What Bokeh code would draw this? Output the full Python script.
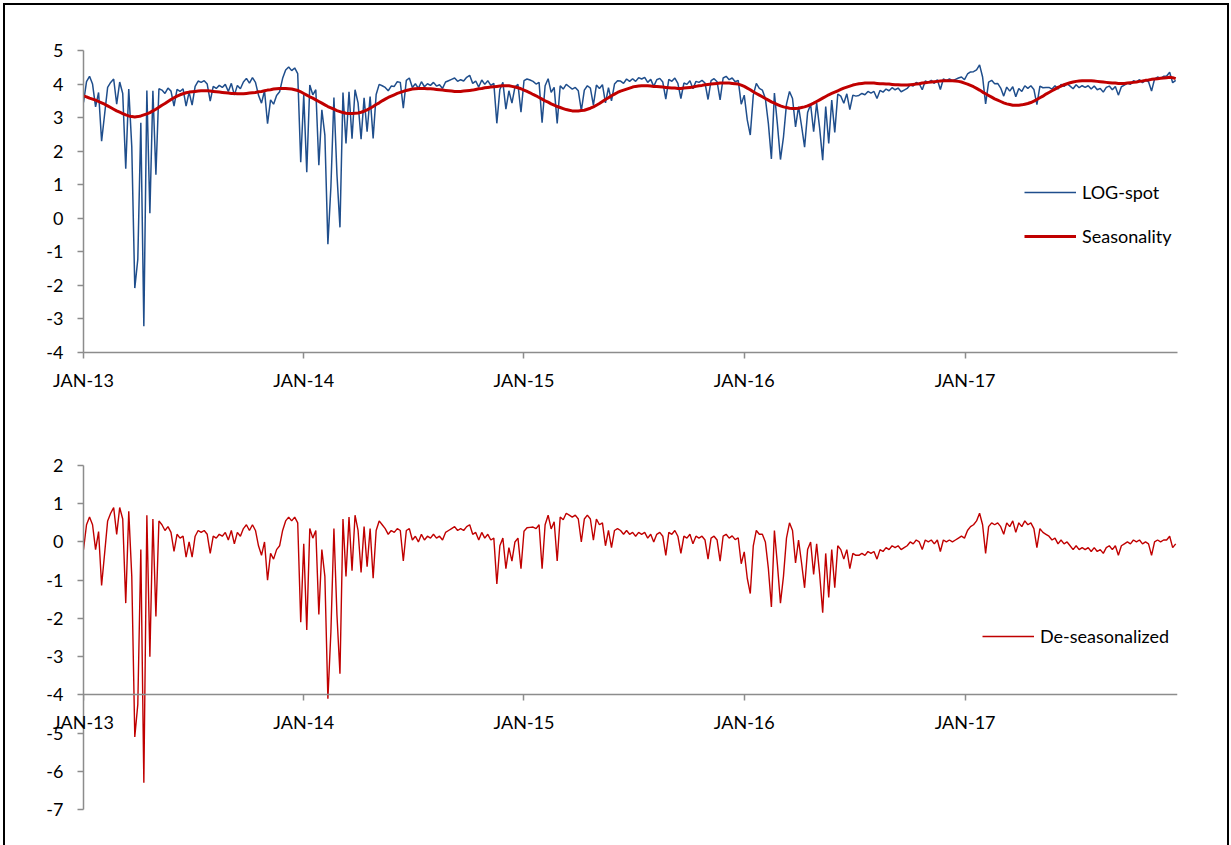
import numpy as np
import pandas as pd
from bokeh.plotting import figure
from bokeh.layouts import column, row
from bokeh.models import (ColumnDataSource, FixedTicker, Label, Legend,
                          LegendItem, Range1d, Spacer)
from bokeh.embed import file_html
from bokeh.resources import INLINE

# ---- data: one observation every 5 days from 2013-01-01 ----
START = "2013-01-01"
STEP_DAYS = 5
X_END = "2017-12-19"

LOG_SPOT = [
    3.45, 4.07, 4.23, 4.00, 3.32, 3.75, 2.30, 3.10, 3.90, 4.05,
    4.15, 3.40, 4.06, 3.72, 1.48, 3.85, 2.13, -2.08, -1.22, 2.85,
    -3.22, 3.81, 0.15, 3.80, 1.30, 3.86, 3.82, 3.72, 3.88, 3.79,
    3.34, 3.84, 3.78, 3.86, 3.34, 3.76, 3.37, 3.93, 4.09, 4.05,
    4.10, 4.00, 3.49, 3.93, 3.87, 3.96, 3.90, 3.99, 3.78, 4.02,
    3.67, 3.96, 3.86, 4.06, 4.17, 4.03, 4.19, 4.05, 3.67, 3.43,
    3.80, 2.82, 3.53, 3.40, 3.66, 3.77, 4.17, 4.42, 4.51, 4.40,
    4.48, 4.31, 1.67, 3.67, 1.37, 3.97, 3.68, 3.83, 1.58, 3.23,
    2.48, -0.77, 0.94, 3.60, 1.31, -0.27, 3.75, 2.23, 3.77, 2.37,
    3.83, 3.44, 2.36, 3.59, 2.58, 3.63, 2.38, 3.69, 3.99, 3.95,
    3.90, 3.80, 3.94, 3.93, 4.07, 4.05, 3.28, 4.11, 4.18, 3.90,
    4.01, 3.87, 4.07, 3.92, 4.01, 3.96, 4.05, 3.94, 3.98, 3.87,
    4.06, 4.10, 4.14, 4.18, 4.08, 4.13, 4.09, 4.20, 4.26, 4.02,
    4.09, 3.91, 4.12, 3.99, 4.10, 3.96, 4.02, 2.83, 3.84, 4.05,
    3.25, 3.80, 3.43, 3.91, 3.99, 3.16, 4.10, 4.15, 4.12, 4.08,
    4.00, 4.05, 2.85, 3.95, 4.16, 3.75, 3.90, 2.83, 3.95, 3.85,
    3.99, 3.92, 3.85, 3.90, 3.80, 3.21, 3.82, 3.95, 3.88, 3.37,
    3.97, 3.87, 3.98, 3.44, 3.89, 3.50, 4.00, 4.10, 4.09, 4.02,
    4.15, 4.08, 4.16, 4.08, 4.19, 4.15, 4.20, 4.05, 4.14, 3.93,
    4.13, 4.17, 4.06, 3.55, 4.14, 4.08, 4.18, 4.02, 3.57, 4.03,
    3.99, 4.10, 3.86, 4.08, 4.05, 4.11, 4.03, 3.54, 4.10, 4.16,
    4.07, 3.53, 4.18, 4.23, 4.13, 4.18, 4.07, 4.11, 3.40, 3.67,
    2.93, 2.48, 3.67, 4.02, 3.87, 3.82, 3.57, 2.82, 1.77, 3.73,
    2.79, 1.75, 2.42, 3.40, 3.78, 3.57, 2.72, 3.33, 2.75, 2.12,
    3.15, 3.39, 2.58, 3.43, 2.68, 1.73, 3.33, 2.23, 3.52, 2.56,
    3.70, 3.64, 3.43, 3.71, 3.24, 3.67, 3.64, 3.66, 3.72, 3.68,
    3.78, 3.73, 3.78, 3.57, 3.81, 3.76, 3.85, 3.80, 3.89, 3.83,
    3.88, 3.77, 3.82, 3.87, 3.98, 3.94, 4.05, 4.01, 3.83, 4.09,
    4.05, 4.11, 4.02, 4.13, 3.84, 4.15, 4.10, 4.15, 4.10, 4.14,
    4.18, 4.21, 4.13, 4.30, 4.36, 4.37, 4.42, 4.57, 4.21, 3.41,
    4.06, 4.11, 4.01, 4.02, 3.88, 3.64, 3.91, 3.79, 3.92, 3.62,
    3.87, 3.78, 3.95, 3.87, 3.95, 3.84, 3.39, 3.94, 3.89, 3.90,
    3.90, 3.85, 3.95, 3.85, 3.99, 3.93, 4.01, 3.94, 3.86, 3.98,
    3.89, 3.95, 3.90, 3.95, 3.85, 3.94, 3.83, 3.87, 3.76, 3.90,
    3.94, 3.83, 3.93, 3.67, 3.92, 3.97, 4.03, 3.99, 4.10, 4.06,
    4.13, 4.04, 4.11, 4.07, 3.79, 4.15, 4.21, 4.17, 4.23, 4.24,
    4.35, 4.04, 4.11,
]

SEASONALITY = [
    3.65, 3.62, 3.58, 3.55, 3.52, 3.48, 3.44, 3.40, 3.35, 3.30,
    3.25, 3.20, 3.16, 3.12, 3.08, 3.05, 3.03, 3.02, 3.03, 3.05,
    3.08, 3.11, 3.15, 3.20, 3.25, 3.31, 3.37, 3.42, 3.48, 3.54,
    3.59, 3.64, 3.68, 3.71, 3.74, 3.76, 3.77, 3.78, 3.79, 3.80,
    3.80, 3.80, 3.79, 3.78, 3.77, 3.76, 3.75, 3.74, 3.73, 3.72,
    3.72, 3.71, 3.71, 3.71, 3.72, 3.73, 3.74, 3.75, 3.77, 3.78,
    3.80, 3.82, 3.83, 3.85, 3.86, 3.87, 3.87, 3.87, 3.86, 3.85,
    3.83, 3.81, 3.77, 3.72, 3.67, 3.62, 3.58, 3.53, 3.48, 3.43,
    3.38, 3.33, 3.29, 3.25, 3.21, 3.18, 3.15, 3.13, 3.12, 3.12,
    3.13, 3.14, 3.16, 3.19, 3.23, 3.28, 3.33, 3.39, 3.44, 3.50,
    3.55, 3.60, 3.64, 3.68, 3.72, 3.75, 3.78, 3.81, 3.83, 3.85,
    3.86, 3.87, 3.87, 3.87, 3.86, 3.86, 3.85, 3.84, 3.83, 3.82,
    3.81, 3.80, 3.79, 3.78, 3.78, 3.78, 3.79, 3.80, 3.81, 3.82,
    3.84, 3.86, 3.87, 3.89, 3.90, 3.91, 3.92, 3.93, 3.94, 3.95,
    3.95, 3.95, 3.93, 3.91, 3.89, 3.86, 3.82, 3.78, 3.74, 3.69,
    3.65, 3.60, 3.55, 3.50, 3.46, 3.41, 3.37, 3.33, 3.30, 3.27,
    3.24, 3.22, 3.20, 3.20, 3.20, 3.21, 3.22, 3.25, 3.28, 3.32,
    3.37, 3.42, 3.48, 3.54, 3.59, 3.65, 3.70, 3.75, 3.79, 3.82,
    3.85, 3.88, 3.91, 3.93, 3.94, 3.95, 3.95, 3.95, 3.94, 3.93,
    3.93, 3.92, 3.91, 3.90, 3.89, 3.88, 3.88, 3.87, 3.87, 3.88,
    3.89, 3.90, 3.91, 3.93, 3.95, 3.96, 3.98, 3.99, 4.00, 4.01,
    4.02, 4.03, 4.03, 4.03, 4.03, 4.02, 4.01, 4.00, 3.97, 3.93,
    3.88, 3.83, 3.77, 3.72, 3.67, 3.62, 3.57, 3.52, 3.47, 3.43,
    3.39, 3.35, 3.32, 3.30, 3.28, 3.27, 3.27, 3.28, 3.30, 3.32,
    3.35, 3.39, 3.43, 3.48, 3.53, 3.58, 3.63, 3.68, 3.72, 3.76,
    3.80, 3.84, 3.88, 3.91, 3.94, 3.97, 3.99, 4.01, 4.02, 4.03,
    4.03, 4.03, 4.03, 4.02, 4.01, 4.01, 4.00, 4.00, 3.99, 3.98,
    3.98, 3.97, 3.97, 3.97, 3.98, 3.99, 4.00, 4.01, 4.03, 4.04,
    4.05, 4.06, 4.07, 4.08, 4.09, 4.10, 4.10, 4.10, 4.10, 4.09,
    4.08, 4.06, 4.03, 4.00, 3.96, 3.92, 3.87, 3.82, 3.76, 3.71,
    3.66, 3.61, 3.56, 3.52, 3.48, 3.44, 3.41, 3.39, 3.37, 3.37,
    3.37, 3.38, 3.40, 3.42, 3.45, 3.49, 3.54, 3.59, 3.64, 3.70,
    3.75, 3.80, 3.85, 3.90, 3.94, 3.98, 4.01, 4.04, 4.06, 4.08,
    4.09, 4.10, 4.10, 4.10, 4.10, 4.09, 4.08, 4.07, 4.06, 4.05,
    4.04, 4.03, 4.03, 4.02, 4.02, 4.02, 4.03, 4.04, 4.05, 4.06,
    4.08, 4.09, 4.11, 4.12, 4.14, 4.15, 4.16, 4.17, 4.18, 4.19,
    4.20, 4.19, 4.16,
]

YEAR_TICKS = ["2013-01-01", "2014-01-01", "2015-01-01", "2016-01-01", "2017-01-01"]
YEAR_LABELS = ["JAN-13", "JAN-14", "JAN-15", "JAN-16", "JAN-17"]
TOP_Y_TICKS = [-4, -3, -2, -1, 0, 1, 2, 3, 4, 5]
BOTTOM_Y_TICKS = [-7, -6, -5, -4, -3, -2, -1, 0, 1, 2]
BOTTOM_AXIS_CROSS = -4

# ---- derived series ----
dates = pd.date_range(START, periods=len(LOG_SPOT), freq=f"{STEP_DAYS}D")
spot = np.array(LOG_SPOT)
season = np.array(SEASONALITY)
src = ColumnDataSource(dict(date=dates, spot=spot, season=season,
                            deseason=spot - season))


def to_ms(day):
    return float(pd.Timestamp(day).value // 10**6)


tick_ms = [to_ms(d) for d in YEAR_TICKS]
x0 = to_ms(START)
x1 = to_ms(X_END)

FONT = "Lato"
FS = "18px"
AXIS = "#8c8c8c"
BLUE = "#1f4e8c"
RED = "#c00000"
TICK_OUT = 6
X_STANDOFF = 10


def style(p, yticks, xlabels):
    p.xgrid.visible = False
    p.ygrid.visible = False
    p.outline_line_color = None
    p.background_fill_color = "white"
    p.border_fill_color = "white"
    for ax in (p.xaxis[0], p.yaxis[0]):
        ax.axis_line_color = AXIS
        ax.axis_line_width = 1.5
        ax.major_tick_line_color = AXIS
        ax.major_tick_line_width = 1.5
        ax.minor_tick_line_color = None
        ax.major_tick_in = 0
        ax.major_tick_out = TICK_OUT
        ax.major_label_text_font = FONT
        ax.major_label_text_font_size = FS
        ax.major_label_text_color = "#000000"
    p.xaxis[0].ticker = FixedTicker(ticks=tick_ms)
    p.xaxis[0].major_label_overrides = dict(zip(tick_ms, xlabels))
    p.xaxis[0].major_label_standoff = X_STANDOFF
    p.yaxis[0].ticker = FixedTicker(ticks=yticks)
    p.yaxis[0].major_label_overrides = {t: str(t) for t in yticks}
    p.yaxis[0].major_label_standoff = 14


def legend(items, loc):
    return Legend(items=items, location=loc, border_line_color=None,
                  background_fill_alpha=0, padding=0, margin=0, spacing=22,
                  glyph_width=52, glyph_height=20, label_height=20,
                  label_standoff=6, label_text_font=FONT,
                  label_text_font_size=FS, label_text_color="#000000")


# ---- upper panel: log spot price and its seasonal component ----
p1 = figure(width=1222, height=415, x_axis_type="datetime", title=None,
            x_range=Range1d(x0, x1), y_range=Range1d(-4, 5),
            min_border_left=78, min_border_right=50, min_border_top=45,
            min_border_bottom=68, output_backend="svg", toolbar_location=None)
style(p1, TOP_Y_TICKS, YEAR_LABELS)
r_spot = p1.line("date", "spot", source=src, line_color=BLUE, line_width=1.5)
r_season = p1.line("date", "season", source=src, line_color=RED, line_width=3,
                   line_join="round")
p1.add_layout(legend([LegendItem(label="LOG-spot", renderers=[r_spot]),
                      LegendItem(label="Seasonality", renderers=[r_season])],
                     (941, 105)))

# ---- lower panel: de-seasonalized series, date axis crossing at -4 ----
p2 = figure(width=1222, height=425, x_axis_type="datetime", title=None,
            x_range=Range1d(x0, x1), y_range=Range1d(-7, 2),
            min_border_left=78, min_border_right=50, min_border_top=45,
            min_border_bottom=36, output_backend="svg", toolbar_location=None)
# the crossing axis is clipped at the frame edge, so its first label is
# drawn by a label kept outside the plot area (not clipped)
style(p2, BOTTOM_Y_TICKS, [""] + YEAR_LABELS[1:])
p2.xaxis[0].fixed_location = BOTTOM_AXIS_CROSS
p2.add_layout(Label(x=tick_ms[0], y=BOTTOM_AXIS_CROSS, text=YEAR_LABELS[0],
                    text_align="center", text_baseline="top",
                    y_offset=-(TICK_OUT + X_STANDOFF), text_font=FONT,
                    text_font_size=FS, text_color="#000000"), "above")
r_des = p2.line("date", "deseason", source=src, line_color=RED, line_width=1.4)
p2.add_layout(legend([LegendItem(label="De-seasonalized", renderers=[r_des])],
                     (899, 162)))

# ---- chart-area frame ----
BLACK = {"background-color": "#000000"}
inner = column(Spacer(width=1222, height=2, styles=BLACK), p1, p2, spacing=0)
body = row(Spacer(width=3, height=842),
           Spacer(width=2, height=842, styles=BLACK),
           inner,
           Spacer(width=2, height=842, styles=BLACK), spacing=0)
page = column(Spacer(width=1231, height=3), body, spacing=0)

open("out.html", "w").write(file_html(page, INLINE))
